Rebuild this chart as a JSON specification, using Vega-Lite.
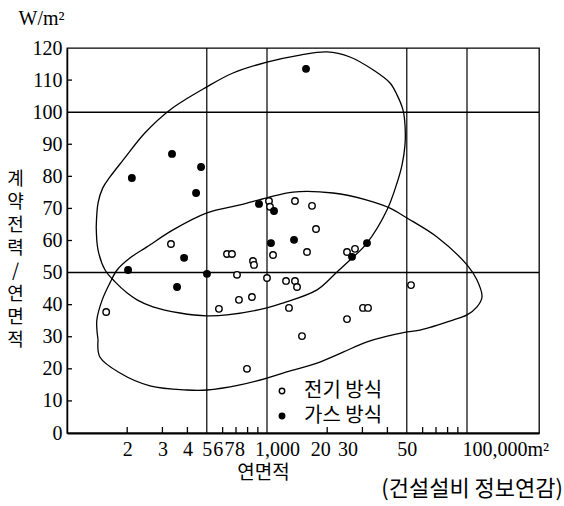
{
  "$schema": "https://vega.github.io/schema/vega-lite/v6.json",
  "width": 472,
  "height": 385,
  "autosize": {"type": "none"},
  "padding": {"left": 67, "top": 48, "right": 25, "bottom": 73},
  "background": "white",
  "config": {
    "view": {"stroke": "black", "strokeWidth": 1.3},
    "axis": {"domainColor": "black", "tickColor": "black", "labelColor": "black", "titleColor": "black", "grid": false, "zindex": 1}
  },
  "title": {
    "text": "(건설설비 정보연감)",
    "orient": "bottom",
    "anchor": "end",
    "frame": "group",
    "font": "Noto Sans CJK KR",
    "fontSize": 22,
    "fontWeight": "normal",
    "color": "black",
    "dx": 24,
    "offset": -3
  },
  "datasets": {
    "vlines": [{"x": 500}, {"x": 1000}, {"x": 5000}, {"x": 10000}],
    "hlines": [{"y": 50}, {"y": 100}],
    "xticks": [{"x": 200}, {"x": 300}, {"x": 400}, {"x": 600}, {"x": 700}, {"x": 800}, {"x": 900}, {"x": 2000}, {"x": 3000}, {"x": 4000}, {"x": 6000}, {"x": 7000}, {"x": 8000}, {"x": 9000}],
    "yticks": [{"y": 10}, {"y": 20}, {"y": 30}, {"y": 40}, {"y": 60}, {"y": 70}, {"y": 80}, {"y": 90}, {"y": 110}],
    "curves": [
      {"g": "gas", "i": 1, "x": 140, "y": 64.2},
      {"g": "gas", "i": 2, "x": 143, "y": 71.7},
      {"g": "gas", "i": 3, "x": 151, "y": 76.4},
      {"g": "gas", "i": 4, "x": 164, "y": 79.8},
      {"g": "gas", "i": 5, "x": 191, "y": 85.1},
      {"g": "gas", "i": 6, "x": 245, "y": 93.5},
      {"g": "gas", "i": 7, "x": 327, "y": 100.7},
      {"g": "gas", "i": 8, "x": 501, "y": 107.9},
      {"g": "gas", "i": 9, "x": 676, "y": 112.2},
      {"g": "gas", "i": 10, "x": 1000, "y": 115.6},
      {"g": "gas", "i": 11, "x": 1462, "y": 117.8},
      {"g": "gas", "i": 12, "x": 1995, "y": 118.8},
      {"g": "gas", "i": 13, "x": 2600, "y": 117.2},
      {"g": "gas", "i": 14, "x": 3388, "y": 113.2},
      {"g": "gas", "i": 15, "x": 4121, "y": 109.1},
      {"g": "gas", "i": 16, "x": 4467, "y": 105.4},
      {"g": "gas", "i": 17, "x": 4786, "y": 100.7},
      {"g": "gas", "i": 18, "x": 4898, "y": 96.0},
      {"g": "gas", "i": 19, "x": 4898, "y": 89.8},
      {"g": "gas", "i": 20, "x": 4732, "y": 83.5},
      {"g": "gas", "i": 21, "x": 4467, "y": 77.9},
      {"g": "gas", "i": 22, "x": 3981, "y": 69.5},
      {"g": "gas", "i": 23, "x": 3162, "y": 59.2},
      {"g": "gas", "i": 24, "x": 2600, "y": 53.9},
      {"g": "gas", "i": 25, "x": 2239, "y": 50.2},
      {"g": "gas", "i": 26, "x": 1778, "y": 44.6},
      {"g": "gas", "i": 27, "x": 1202, "y": 40.5},
      {"g": "gas", "i": 28, "x": 1000, "y": 39.0},
      {"g": "gas", "i": 29, "x": 631, "y": 36.8},
      {"g": "gas", "i": 30, "x": 501, "y": 36.5},
      {"g": "gas", "i": 31, "x": 367, "y": 37.4},
      {"g": "gas", "i": 32, "x": 269, "y": 39.3},
      {"g": "gas", "i": 33, "x": 224, "y": 41.5},
      {"g": "gas", "i": 34, "x": 200, "y": 43.6},
      {"g": "gas", "i": 35, "x": 174, "y": 47.1},
      {"g": "gas", "i": 36, "x": 155, "y": 50.8},
      {"g": "gas", "i": 37, "x": 143, "y": 57.0},
      {"g": "gas", "i": 38, "x": 140, "y": 64.2},
      {"g": "elec", "i": 1, "x": 143, "y": 29.0},
      {"g": "elec", "i": 2, "x": 141, "y": 35.2},
      {"g": "elec", "i": 3, "x": 150, "y": 41.5},
      {"g": "elec", "i": 4, "x": 164, "y": 46.8},
      {"g": "elec", "i": 5, "x": 178, "y": 50.8},
      {"g": "elec", "i": 6, "x": 207, "y": 54.6},
      {"g": "elec", "i": 7, "x": 251, "y": 58.0},
      {"g": "elec", "i": 8, "x": 339, "y": 63.3},
      {"g": "elec", "i": 9, "x": 501, "y": 68.6},
      {"g": "elec", "i": 10, "x": 733, "y": 71.1},
      {"g": "elec", "i": 11, "x": 1000, "y": 73.3},
      {"g": "elec", "i": 12, "x": 1349, "y": 75.1},
      {"g": "elec", "i": 13, "x": 2138, "y": 74.8},
      {"g": "elec", "i": 14, "x": 3162, "y": 72.6},
      {"g": "elec", "i": 15, "x": 4121, "y": 70.1},
      {"g": "elec", "i": 16, "x": 5012, "y": 67.0},
      {"g": "elec", "i": 17, "x": 7079, "y": 61.1},
      {"g": "elec", "i": 18, "x": 10000, "y": 52.4},
      {"g": "elec", "i": 19, "x": 11220, "y": 47.7},
      {"g": "elec", "i": 20, "x": 11885, "y": 42.4},
      {"g": "elec", "i": 21, "x": 11220, "y": 39.3},
      {"g": "elec", "i": 22, "x": 10000, "y": 36.8},
      {"g": "elec", "i": 23, "x": 8511, "y": 35.2},
      {"g": "elec", "i": 24, "x": 5821, "y": 32.1},
      {"g": "elec", "i": 25, "x": 5012, "y": 31.5},
      {"g": "elec", "i": 26, "x": 3162, "y": 28.4},
      {"g": "elec", "i": 27, "x": 2399, "y": 25.2},
      {"g": "elec", "i": 28, "x": 1778, "y": 21.8},
      {"g": "elec", "i": 29, "x": 1202, "y": 18.7},
      {"g": "elec", "i": 30, "x": 1000, "y": 17.1},
      {"g": "elec", "i": 31, "x": 733, "y": 15.0},
      {"g": "elec", "i": 32, "x": 501, "y": 13.4},
      {"g": "elec", "i": 33, "x": 398, "y": 13.4},
      {"g": "elec", "i": 34, "x": 260, "y": 14.7},
      {"g": "elec", "i": 35, "x": 184, "y": 18.7},
      {"g": "elec", "i": 36, "x": 146, "y": 23.7},
      {"g": "elec", "i": 37, "x": 143, "y": 29.0}
    ],
    "pts": [
      {"type": "전기 방식", "x": 1023, "y": 72.3},
      {"type": "전기 방식", "x": 1035, "y": 70.5},
      {"type": "전기 방식", "x": 1380, "y": 72.3},
      {"type": "전기 방식", "x": 1679, "y": 70.8},
      {"type": "전기 방식", "x": 1758, "y": 63.6},
      {"type": "전기 방식", "x": 331, "y": 58.9},
      {"type": "전기 방식", "x": 631, "y": 55.8},
      {"type": "전기 방식", "x": 668, "y": 55.8},
      {"type": "전기 방식", "x": 851, "y": 53.6},
      {"type": "전기 방식", "x": 861, "y": 52.4},
      {"type": "전기 방식", "x": 1072, "y": 55.5},
      {"type": "전기 방식", "x": 1585, "y": 56.4},
      {"type": "전기 방식", "x": 2512, "y": 56.4},
      {"type": "전기 방식", "x": 2754, "y": 57.4},
      {"type": "전기 방식", "x": 708, "y": 49.3},
      {"type": "전기 방식", "x": 1000, "y": 48.3},
      {"type": "전기 방식", "x": 1245, "y": 47.4},
      {"type": "전기 방식", "x": 1380, "y": 47.4},
      {"type": "전기 방식", "x": 1413, "y": 45.5},
      {"type": "전기 방식", "x": 5248, "y": 46.1},
      {"type": "전기 방식", "x": 724, "y": 41.5},
      {"type": "전기 방식", "x": 841, "y": 42.4},
      {"type": "전기 방식", "x": 1288, "y": 39.0},
      {"type": "전기 방식", "x": 3020, "y": 39.0},
      {"type": "전기 방식", "x": 3199, "y": 39.0},
      {"type": "전기 방식", "x": 2512, "y": 35.5},
      {"type": "전기 방식", "x": 1496, "y": 30.2},
      {"type": "전기 방식", "x": 157, "y": 37.7},
      {"type": "전기 방식", "x": 575, "y": 38.7},
      {"type": "전기 방식", "x": 794, "y": 20.0},
      {"type": "가스 방식", "x": 1567, "y": 113.5},
      {"type": "가스 방식", "x": 335, "y": 87.0},
      {"type": "가스 방식", "x": 468, "y": 82.9},
      {"type": "가스 방식", "x": 211, "y": 79.5},
      {"type": "가스 방식", "x": 442, "y": 74.8},
      {"type": "가스 방식", "x": 912, "y": 71.4},
      {"type": "가스 방식", "x": 1084, "y": 69.2},
      {"type": "가스 방식", "x": 1047, "y": 59.2},
      {"type": "가스 방식", "x": 1365, "y": 60.2},
      {"type": "가스 방식", "x": 3162, "y": 59.2},
      {"type": "가스 방식", "x": 2661, "y": 54.9},
      {"type": "가스 방식", "x": 385, "y": 54.6},
      {"type": "가스 방식", "x": 202, "y": 50.8},
      {"type": "가스 방식", "x": 501, "y": 49.6},
      {"type": "가스 방식", "x": 355, "y": 45.5}
    ]
  },
  "layer": [
    {
      "data": {"name": "vlines"},
      "mark": {"type": "rule", "color": "black", "strokeWidth": 1.2},
      "encoding": {
        "x": {"field": "x", "type": "quantitative", "scale": {"type": "log", "domain": [100, 22909], "nice": false},
          "axis": {
            "values": [200, 300, 400, 500, 600, 700, 800, 900, 1000, 2000, 3000, 4000, 5000, 6000, 7000, 8000, 9000, 10000],
            "labelExpr": "datum.value==200?'2':datum.value==300?'3':datum.value==400?'4':datum.value==500?'5':datum.value==600?'6':datum.value==700?'7':datum.value==800?'8':datum.value==1000?'1,000':datum.value==2000?'20':datum.value==3000?'30':datum.value==5000?'50':datum.value==10000?'100,000m²':''",
            "labelOverlap": false,
            "labelFlush": false,
            "labelFont": "Liberation Serif",
            "labelFontSize": 20,
            "labelPadding": 13,
            "labelAlign": {"condition": {"test": "datum.value == 10000", "value": "left"}, "value": "center"},
            "labelOffset": {"condition": [
              {"test": "datum.value == 1000", "value": 10},
              {"test": "datum.value == 600", "value": -5},
              {"test": "datum.value == 700", "value": -7},
              {"test": "datum.value == 800", "value": -8},
              {"test": "datum.value == 2000", "value": -7},
              {"test": "datum.value == 3000", "value": -15},
              {"test": "datum.value == 10000", "value": -5}
            ], "value": 0},
            "tickSize": -7,
            "tickOpacity": 0,
            "domainWidth": 2,
            "title": "연면적",
            "titleFont": "Noto Sans CJK KR",
            "titleFontSize": 19,
            "titleFontWeight": "normal",
            "titleX": 196,
            "titleY": 39,
            "titleAlign": "center",
            "titleBaseline": "middle"
          }}
      }
    },
    {
      "data": {"name": "hlines"},
      "mark": {"type": "rule", "color": "black", "strokeWidth": 1.5},
      "encoding": {
        "y": {"field": "y", "type": "quantitative", "scale": {"domain": [0, 120], "nice": false}, "axis": null}
      }
    },
    {
      "data": {"name": "xticks"},
      "mark": {"type": "tick", "color": "black", "orient": "vertical", "size": 12, "thickness": 1.3, "clip": true, "opacity": 1},
      "encoding": {
        "x": {"field": "x", "type": "quantitative"},
        "y": {"datum": 0, "type": "quantitative", "scale": {"domain": [0, 120], "nice": false}, "axis": null}
      }
    },
    {
      "data": {"name": "yticks"},
      "mark": {"type": "tick", "color": "black", "orient": "horizontal", "size": 10, "thickness": 1.3, "clip": true, "opacity": 1},
      "encoding": {
        "x": {"datum": 100, "type": "quantitative"},
        "y": {"field": "y", "type": "quantitative", "scale": {"domain": [0, 120], "nice": false}, "axis": null}
      }
    },
    {
      "data": {"name": "curves"},
      "mark": {"type": "line", "color": "black", "strokeWidth": 1.3, "interpolate": "catmull-rom"},
      "encoding": {
        "x": {"field": "x", "type": "quantitative"},
        "y": {"field": "y", "type": "quantitative", "scale": {"domain": [0, 120], "nice": false},
          "axis": {"orient": "right", "title": ["계", "약", "전", "력", "/", "연", "면", "적"], "titleAngle": 0, "titleAlign": "center", "titleBaseline": "top", "titleX": -524, "titleY": 122, "titleFont": "Noto Sans CJK KR", "titleFontSize": 18, "titleFontWeight": "normal", "titleLineHeight": 23, "labels": false, "ticks": false, "domain": false, "grid": false}},
        "detail": {"field": "g", "type": "nominal"},
        "order": {"field": "i", "type": "quantitative"}
      }
    },
    {
      "data": {"name": "pts"},
      "mark": {"type": "circle", "stroke": "black", "strokeWidth": 1.4, "size": 42, "opacity": 1},
      "encoding": {
        "x": {"field": "x", "type": "quantitative"},
        "y": {"field": "y", "type": "quantitative", "scale": {"domain": [0, 120], "nice": false},
          "axis": {
            "orient": "left",
            "values": [0, 10, 20, 30, 40, 50, 60, 70, 80, 90, 100, 110, 120],
            "labelFont": "Liberation Serif",
            "labelFontSize": 20,
            "labelPadding": 11,
            "tickSize": -6,
            "tickOpacity": 0,
            "domainWidth": 1.5,
            "title": "W/m²",
            "titleAngle": 0,
            "titleAlign": "left",
            "titleBaseline": "middle",
            "titleX": -49,
            "titleY": -30,
            "titleFont": "Liberation Serif",
            "titleFontSize": 20,
            "titleFontWeight": "normal"
          }},
        "fill": {"field": "type", "type": "nominal",
          "scale": {"domain": ["전기 방식", "가스 방식"], "range": ["white", "black"]},
          "legend": {"title": null, "orient": "none", "legendX": 205, "legendY": 333, "labelFont": "Noto Sans CJK KR", "labelFontSize": 20, "labelColor": "black", "symbolType": "circle", "symbolSize": 30, "symbolStrokeColor": "black", "symbolStrokeWidth": 1.4, "symbolOpacity": 1, "labelOffset": 12, "rowPadding": 5}}
      }
    }
  ],
  "resolve": {"axis": {"y": "independent"}}
}
